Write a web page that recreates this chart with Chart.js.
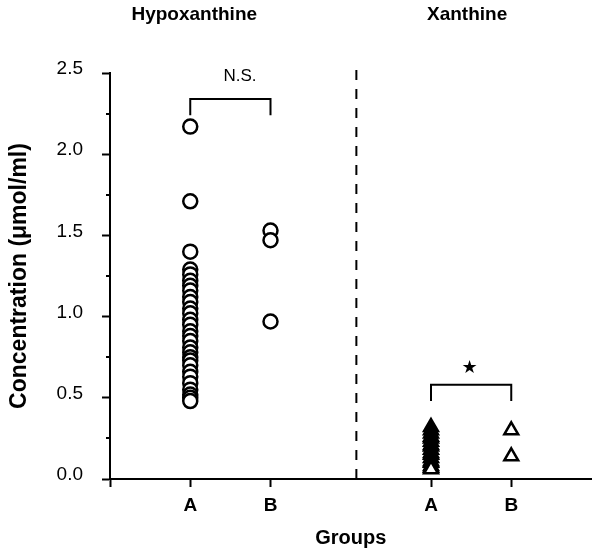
<!DOCTYPE html>
<html>
<head>
<meta charset="utf-8">
<script src="https://cdn.jsdelivr.net/npm/chart.js@4.4.1/dist/chart.umd.min.js"></script>
<style>
  html, body { margin: 0; padding: 0; background: #fff; }
  #wrap { width: 602px; height: 555px; position: relative; }
</style>
</head>
<body>
<div id="wrap"><canvas id="chart"></canvas></div>
<script>
// Group positions on the x axis and their labels
const groupPos = [1, 2, 4, 5];
const groupLabels = ['A', 'B', 'A', 'B'];

// Hypoxanthine concentrations (umol/ml)
const hypoA = [2.17, 1.71, 1.40, 1.29, 1.26, 1.22, 1.19, 1.16, 1.12, 1.09, 1.05, 1.02,
               0.98, 0.95, 0.91, 0.88, 0.85, 0.81, 0.78, 0.75, 0.73, 0.70, 0.66, 0.63,
               0.59, 0.55, 0.52, 0.50, 0.48];
const hypoB = [1.53, 1.47, 0.97];

// Xanthine concentrations (umol/ml)
const xanA = [0.32, 0.30, 0.28, 0.26, 0.25, 0.23, 0.21, 0.20, 0.18, 0.16, 0.15, 0.13,
              0.11, 0.10, 0.08, 0.07, 0.06];
const xanB = [0.30, 0.14];

// Axis ticks
const yTicks = [0.0, 0.5, 1.0, 1.5, 2.0, 2.5];
const yMinorTicks = [0.25, 0.75, 1.25, 1.75, 2.25];
const xTicks = [0, ...groupPos];
const dividerX = 3.07;

// Significance brackets: [fromX, toX, topY, legY, label, labelX, labelY]
const brackets = [
    [1, 2, 2.34, 2.24, 'N.S.', 1.62, 2.48],
    [4, 5, 0.58, 0.48, '\u2605', 4.48, 0.68]
];

// Panel headers
const headers = ['Hypoxanthine', 'Xanthine'];
const headerX = [1.05, 4.45];

const FONT = "'Liberation Sans', Arial, Helvetica, sans-serif";

const toPoints = (x, values) => values.map(v => ({ x: x, y: v }));

const circleStyle = {
    pointStyle: 'circle', pointRadius: 7, pointHoverRadius: 7,
    borderColor: '#000', backgroundColor: '#fff', pointBorderWidth: 2.5
};
const triangleStyle = {
    pointStyle: 'triangle', pointRadius: 8, pointHoverRadius: 8,
    borderColor: '#000', backgroundColor: '#fff', pointBorderWidth: 2.5
};

const lineStyle = {
    type: 'line', showLine: true, pointRadius: 0, borderColor: '#000',
    borderWidth: 2, fill: false, tension: 0, clip: false
};

const datasets = [];
brackets.forEach(b => {
    datasets.push({
        ...lineStyle,
        data: [{ x: b[0], y: b[3] }, { x: b[0], y: b[2] }, { x: b[1], y: b[2] }, { x: b[1], y: b[3] }]
    });
});
datasets.push({
    ...lineStyle,
    borderDash: [10, 9],
    data: [{ x: dividerX, y: 0 }, { x: dividerX, y: 2.55 }]
});
datasets.push({ ...circleStyle, data: toPoints(groupPos[0], hypoA) });
datasets.push({ ...circleStyle, data: toPoints(groupPos[1], hypoB) });
datasets.push({ ...triangleStyle, data: toPoints(groupPos[2], xanA) });
datasets.push({ ...triangleStyle, data: toPoints(groupPos[3], xanB) });

const annotations = {
    id: 'annotations',
    afterDraw(chart) {
        const ctx = chart.ctx;
        const xs = chart.scales.x;
        const ys = chart.scales.y;
        ctx.save();

        // minor ticks on the y axis
        ctx.strokeStyle = '#000';
        ctx.lineWidth = 2;
        yMinorTicks.forEach(v => {
            const py = Math.round(ys.getPixelForValue(v));
            ctx.beginPath();
            ctx.moveTo(xs.left - 4, py);
            ctx.lineTo(xs.left, py);
            ctx.stroke();
        });

        // bracket labels
        ctx.fillStyle = '#000';
        ctx.textAlign = 'center';
        ctx.textBaseline = 'middle';
        brackets.forEach(b => {
            ctx.font = b[4] === 'N.S.' ? `17px ${FONT}` : "18px 'DejaVu Sans', sans-serif";
            ctx.fillText(b[4], xs.getPixelForValue(b[5]), ys.getPixelForValue(b[6]));
        });

        // panel headers
        ctx.font = `bold 19px ${FONT}`;
        headers.forEach((h, i) => {
            ctx.fillText(h, xs.getPixelForValue(headerX[i]), chart.chartArea.top - 58);
        });
        ctx.restore();
    }
};

new Chart(document.getElementById('chart'), {
    type: 'scatter',
    data: { datasets: datasets },
    options: {
        responsive: true,
        maintainAspectRatio: false,
        animation: false,
        events: [],
        layout: { padding: { top: 73, right: 7, left: 0, bottom: 0 } },
        plugins: {
            legend: { display: false },
            tooltip: { enabled: false }
        },
        scales: {
            x: {
                type: 'linear',
                min: 0,
                max: 6,
                afterBuildTicks: scale => { scale.ticks = xTicks.map(v => ({ value: v })); },
                afterFit: scale => { scale.height = 76; },
                ticks: {
                    autoSkip: false,
                    maxRotation: 0,
                    color: '#000',
                    padding: 7,
                    font: { family: FONT, size: 19, weight: 'bold' },
                    callback: v => {
                        const i = groupPos.indexOf(v);
                        return i >= 0 ? groupLabels[i] : '';
                    }
                },
                grid: {
                    drawOnChartArea: false,
                    drawTicks: true,
                    tickLength: 8,
                    tickWidth: 2,
                    tickColor: '#000'
                },
                border: { display: true, color: '#000', width: 2 },
                title: {
                    display: true,
                    text: 'Groups',
                    color: '#000',
                    font: { family: FONT, size: 20, weight: 'bold' },
                    padding: { top: 0, bottom: 5 }
                }
            },
            y: {
                type: 'linear',
                min: 0,
                max: 2.5,
                afterBuildTicks: scale => { scale.ticks = yTicks.map(v => ({ value: v })); },
                afterFit: scale => { scale.width = 110; },
                ticks: {
                    color: '#000',
                    padding: 19,
                    labelOffset: -4,
                    font: { family: FONT, size: 19 },
                    callback: v => v.toFixed(1)
                },
                grid: {
                    drawOnChartArea: false,
                    drawTicks: true,
                    tickLength: 8,
                    tickWidth: 2,
                    tickColor: '#000'
                },
                border: { display: true, color: '#000', width: 2 },
                title: {
                    display: true,
                    text: 'Concentration (\u03bcmol/ml)',
                    color: '#000',
                    font: { family: FONT, size: 23, weight: 'bold' },
                    padding: { top: 6, bottom: 0 }
                }
            }
        }
    },
    plugins: [annotations]
});
</script>
</body>
</html>
